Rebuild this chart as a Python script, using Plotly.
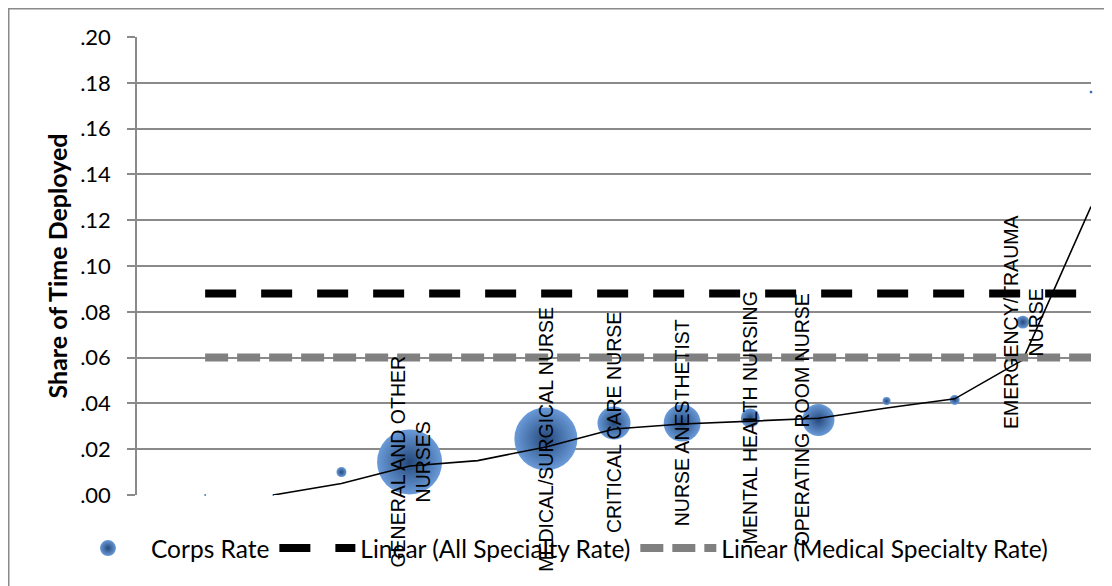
import plotly.graph_objects as go

# ---------------- data ----------------
rank = [1, 2, 3, 4, 5, 6, 7, 8, 9, 10, 11, 12, 13, 14]
specialty = ["", "", "", "GENERAL AND OTHER<br>NURSES", "", "MEDICAL/SURGICAL NURSE",
             "CRITICAL CARE NURSE", "NURSE ANESTHETIST", "MENTAL HEALTH NURSING",
             "OPERATING ROOM NURSE", "", "", "EMERGENCY/TRAUMA<br>NURSE", ""]
corps_rate = [0.000, 0.000, 0.010, 0.0144, None, 0.0245, 0.0314, 0.0314, 0.0336,
              0.0328, 0.041, 0.0415, 0.0755, 0.176]
personnel = [5, 5, 120, 5070, 0, 4760, 1310, 1640, 430, 1230, 77, 120, 200, 11]
cumulative_rate = [None, 0.000, 0.005, 0.0127, 0.015, 0.021, 0.0288, 0.031, 0.0323,
                   0.0335, 0.038, 0.042, 0.059, 0.126]
all_specialty_rate = 0.088
medical_specialty_rate = 0.060

y_tickvals = [0.00, 0.02, 0.04, 0.06, 0.08, 0.10, 0.12, 0.14, 0.16, 0.18, 0.20]
y_ticktext = [".00", ".02", ".04", ".06", ".08", ".10", ".12", ".14", ".16", ".18", ".20"]

# ---------------- figure ----------------
GRID = "#8a8a8a"
max_d = 65
W, H = 1104, 578
L, R, T, B = 129, 21, 29, 91
PW, PH = W - L - R, H - T - B

fig = go.Figure()

fig.add_trace(go.Scatter(
    x=rank, y=corps_rate, mode="markers", name="Corps Rate",
    cliponaxis=False,
    marker=dict(size=personnel, sizemode="area",
                sizeref=2.0 * max(personnel) / (max_d ** 2), sizemin=1,
                color="#6a9ad8", opacity=1,
                gradient=dict(type="radial", color="#24497c"),
                line=dict(width=0)),
))

fig.add_trace(go.Scatter(
    x=rank, y=cumulative_rate, mode="lines", showlegend=False,
    line=dict(color="black", width=1.6), hoverinfo="skip",
))

fig.add_trace(go.Scatter(
    x=[rank[0], rank[-1]], y=[all_specialty_rate, all_specialty_rate],
    mode="lines", name="Linear (All Specialty Rate)",
    line=dict(color="black", width=8, dash="31px,25px"),
))

fig.add_trace(go.Scatter(
    x=[rank[0], rank[-1]], y=[medical_specialty_rate, medical_specialty_rate],
    mode="lines", name="Linear (Medical Specialty Rate)",
    line=dict(color="#808080", width=8, dash="23px,9px"),
))

for xv, yv, lab in zip(rank, corps_rate, specialty):
    if lab and yv is not None:
        fig.add_annotation(
            x=xv, y=yv, xref="x", yref="y", text=lab, showarrow=False,
            textangle=-90, xanchor="center", yanchor="middle", align="center",
            xshift=-17 if lab.startswith("OPERATING") else 0,
            font=dict(family="Liberation Sans, Arial, sans-serif", size=19.5, color="black"),
        )

# outer chart border (frame of the chart area)
fig.add_shape(type="rect", xref="paper", yref="paper",
              x0=(0.75 - L) / PW, x1=(W + 10 - L) / PW,
              y0=-(B + 10) / PH, y1=(PH + T - 0.75) / PH,
              line=dict(color=GRID, width=1.5), fillcolor="rgba(0,0,0,0)", layer="above")

fig.update_layout(
    width=W, height=H,
    margin=dict(l=L, r=R, t=T, b=B, autoexpand=False),
    paper_bgcolor="white", plot_bgcolor="white",
    font=dict(family="Lato, Open Sans, sans-serif", color="black"),
    showlegend=True,
    legend=dict(orientation="h", x=-0.0755, xanchor="left", y=-0.116, yanchor="middle",
                font=dict(size=24.5, family="Lato, sans-serif"), itemwidth=76,
                bgcolor="rgba(0,0,0,0)"),
    xaxis=dict(range=[0, 14], showgrid=False, zeroline=False, showticklabels=False,
               showline=False, ticks=""),
    yaxis=dict(range=[0, 0.20], tickvals=y_tickvals, ticktext=y_ticktext,
               showgrid=True, gridcolor=GRID, gridwidth=1.5, zeroline=False,
               showline=True, linecolor=GRID, linewidth=1.5,
               ticks="outside", ticklen=8, tickcolor=GRID, tickwidth=1.5,
               ticklabelstandoff=12, automargin=False,
               tickfont=dict(size=22, family="Lato, sans-serif", color="black"),
               title=dict(text="<b>Share of Time Deployed</b>", standoff=5,
                          font=dict(size=25, family="Lato, sans-serif", color="black"))),
)

fig.write_html("out.html")
